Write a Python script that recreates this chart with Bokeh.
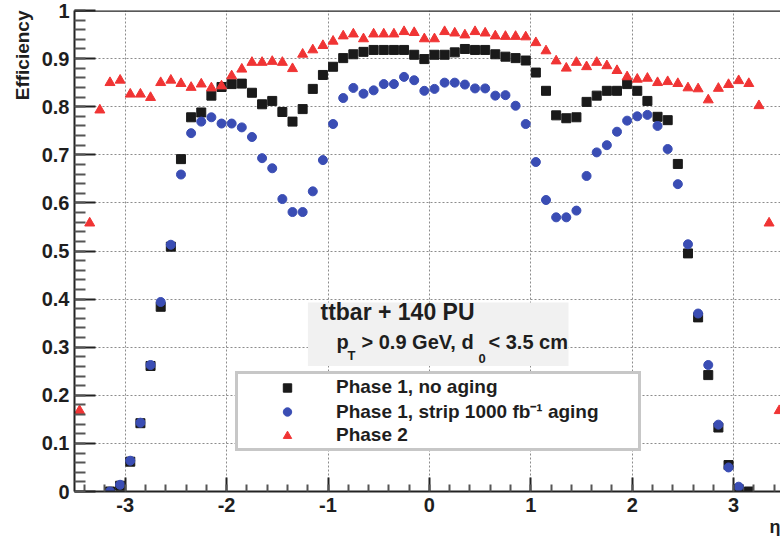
from bokeh.plotting import figure
from bokeh.models import (FixedTicker, Label, BoxAnnotation, Span, Legend, LegendItem,
                          ColumnDataSource, Title)
from bokeh.embed import file_html
from bokeh.resources import INLINE

NaN = float("nan")

# bin centres in eta
eta = [-3.45, -3.35, -3.25, -3.15, -3.05, -2.95, -2.85, -2.75, -2.65, -2.55,
       -2.45, -2.35, -2.25, -2.15, -2.05, -1.95, -1.85, -1.75, -1.65, -1.55,
       -1.45, -1.35, -1.25, -1.15, -1.05, -0.95, -0.85, -0.75, -0.65, -0.55,
       -0.45, -0.35, -0.25, -0.15, -0.05, 0.05, 0.15, 0.25, 0.35, 0.45,
       0.55, 0.65, 0.75, 0.85, 0.95, 1.05, 1.15, 1.25, 1.35, 1.45,
       1.55, 1.65, 1.75, 1.85, 1.95, 2.05, 2.15, 2.25, 2.35, 2.45,
       2.55, 2.65, 2.75, 2.85, 2.95, 3.05, 3.15, 3.25, 3.35, 3.45]

phase1_no_aging = [NaN, NaN, NaN, 0.0, 0.012, 0.062, 0.142, 0.261, 0.384, 0.509,
                   0.691, 0.778, 0.788, 0.823, 0.841, 0.847, 0.848, 0.829, 0.805, 0.812,
                   0.789, 0.769, 0.795, 0.837, 0.866, 0.883, 0.901, 0.909, 0.914, 0.918,
                   0.918, 0.918, 0.918, 0.908, 0.899, 0.908, 0.908, 0.913, 0.920, 0.918,
                   0.918, 0.909, 0.904, 0.901, 0.896, 0.871, 0.833, 0.782, 0.776, 0.778,
                   0.810, 0.823, 0.833, 0.833, 0.847, 0.833, 0.812, 0.779, 0.772, 0.681,
                   0.495, 0.362, 0.242, 0.133, 0.055, 0.005, 0.0, NaN, NaN, NaN]

phase1_aging = [NaN, NaN, NaN, 0.0, 0.014, 0.064, 0.143, 0.263, 0.394, 0.513,
                0.659, 0.745, 0.769, 0.778, 0.765, 0.765, 0.757, 0.737, 0.693, 0.672,
                0.608, 0.581, 0.581, 0.624, 0.689, 0.764, 0.818, 0.839, 0.827, 0.834,
                0.847, 0.847, 0.862, 0.855, 0.833, 0.837, 0.850, 0.850, 0.846, 0.838,
                0.838, 0.823, 0.824, 0.802, 0.764, 0.685, 0.606, 0.570, 0.570, 0.584,
                0.656, 0.705, 0.720, 0.748, 0.771, 0.780, 0.783, 0.760, 0.712, 0.639,
                0.514, 0.370, 0.263, 0.139, 0.050, 0.010, NaN, NaN, NaN, NaN]

phase2 = [0.168, 0.558, 0.793, 0.850, 0.855, 0.826, 0.826, 0.819, 0.850, 0.855,
          0.848, 0.840, 0.847, 0.839, 0.843, 0.864, 0.878, 0.892, 0.892, 0.894,
          0.892, 0.879, 0.909, 0.918, 0.927, 0.936, 0.947, 0.951, 0.941, 0.951,
          0.951, 0.951, 0.956, 0.954, 0.941, 0.941, 0.956, 0.953, 0.949, 0.956,
          0.953, 0.947, 0.946, 0.946, 0.945, 0.933, 0.916, 0.895, 0.880, 0.892,
          0.883, 0.892, 0.885, 0.875, 0.862, 0.857, 0.859, 0.850, 0.852, 0.848,
          0.839, 0.837, 0.814, 0.838, 0.846, 0.854, 0.848, 0.802, 0.558, 0.168]

x_major = [-3, -2, -1, 0, 1, 2, 3]
x_labels = ["-3", "-2", "-1", "0", "1", "2", "3"]
y_major = [0.0, 0.1, 0.2, 0.3, 0.4, 0.5, 0.6, 0.7, 0.8, 0.9, 1.0]
y_labels = ["0", "0.1", "0.2", "0.3", "0.4", "0.5", "0.6", "0.7", "0.8", "0.9", "1"]

series_labels = ["Phase 1, no aging", "Phase 1, strip 1000 fb\u207b\u00b9 aging", "Phase 2"]

FONT = "Liberation Sans"
TXT = "#1e1e1e"

p = figure(width=780, height=536, x_range=(-3.5, 3.4625), y_range=(0, 1),
           output_backend="svg", toolbar_location=None,
           min_border_left=74, min_border_right=0, min_border_top=10, min_border_bottom=45)
p.outline_line_color = None
p.background_fill_color = "white"
p.border_fill_color = "white"

# axes
xminor = [round(-3.4 + 0.2 * i, 2) for i in range(35)]
yminor = [round(0.02 * i, 2) for i in range(51)]
p.xaxis.ticker = FixedTicker(ticks=x_major, minor_ticks=xminor)
p.yaxis.ticker = FixedTicker(ticks=y_major, minor_ticks=yminor)
p.xaxis.major_label_overrides = dict(zip(x_major, x_labels))
p.yaxis.major_label_overrides = dict(zip(y_major, y_labels))

for ax in (p.xaxis[0], p.yaxis[0]):
    ax.axis_line_color = "#222222"
    ax.axis_line_width = 2
    ax.major_tick_line_color = "#222222"
    ax.major_tick_line_width = 2
    ax.minor_tick_line_color = "#555555"
    ax.minor_tick_line_width = 2
    ax.major_tick_out = 0
    ax.minor_tick_out = 0
    ax.major_label_text_font = FONT
    ax.major_label_text_font_style = "bold"
    ax.major_label_text_font_size = "20px"
    ax.major_label_text_color = TXT

p.yaxis.major_tick_in = 21
p.yaxis.minor_tick_in = 11
p.yaxis.major_label_standoff = 5
p.xaxis.major_tick_in = 14
p.xaxis.minor_tick_in = 7
p.xaxis.major_label_standoff = 6

# grid
for g in (p.xgrid[0], p.ygrid[0]):
    g.grid_line_color = "#8c8c8c"
    g.grid_line_dash = "2 2"
    g.grid_line_width = 1

# top frame line
p.add_layout(Span(location=1.0, dimension="width", line_color="#222222", line_width=2.5))

# data
src = ColumnDataSource(dict(eta=eta, a=phase1_no_aging, b=phase1_aging, c=phase2))
r_black = p.scatter("eta", "a", source=src, marker="square", size=9,
                    fill_color="#1a1a1a", line_color="#1a1a1a")
r_blue = p.scatter("eta", "b", source=src, marker="circle", size=9,
                   fill_color="#3a4db4", line_color="#3a4db4")
r_red = p.scatter("eta", "c", source=src, marker="triangle", size=10,
                  fill_color="#f03434", line_color="#f03434")

# info box
p.add_layout(BoxAnnotation(left=-1.198, right=1.372, top=0.393, bottom=0.261,
                           fill_color="#f1f1f1", fill_alpha=1.0, line_color=None))

def lab(text, x, y, size):
    p.add_layout(Label(x=x, y=y, x_units="screen", y_units="screen", text=text,
                       text_font=FONT, text_font_style="bold", text_font_size=size,
                       text_color=TXT))

lab("ttbar + 140 PU", 246, 167, "23px")
lab("p", 262, 139, "20px")
lab("T", 273, 129, "13px")
lab("> 0.9 GeV, d", 287, 139, "20px")
lab("0", 404, 129, "13px")
lab("< 3.5 cm", 414, 139, "20px")

# axis titles (ROOT style, aligned at the axis end)
p.add_layout(Title(text="Efficiency", align="right", text_font=FONT, text_font_style="bold",
                   text_font_size="19px", text_color=TXT, offset=0, standoff=11), "left")
p.add_layout(Title(text="\u03b7", align="right", text_font=FONT, text_font_style="bold",
                   text_font_size="18px", text_color=TXT, offset=0, standoff=0), "below")

# legend
legend = Legend(items=[LegendItem(label=series_labels[0], renderers=[r_black]),
                       LegendItem(label=series_labels[1], renderers=[r_blue]),
                       LegendItem(label=series_labels[2], renderers=[r_red])],
                location=(161, 40), orientation="vertical",
                padding=2, spacing=0, margin=0,
                label_height=21, glyph_height=21, glyph_width=94, label_standoff=2,
                label_width=300,
                label_text_font=FONT, label_text_font_style="bold",
                label_text_font_size="19px", label_text_color=TXT,
                border_line_color="#8f8f8f", border_line_width=3,
                background_fill_color="white", background_fill_alpha=1.0)
p.add_layout(legend)

open("out.html", "w").write(file_html(p, INLINE))
